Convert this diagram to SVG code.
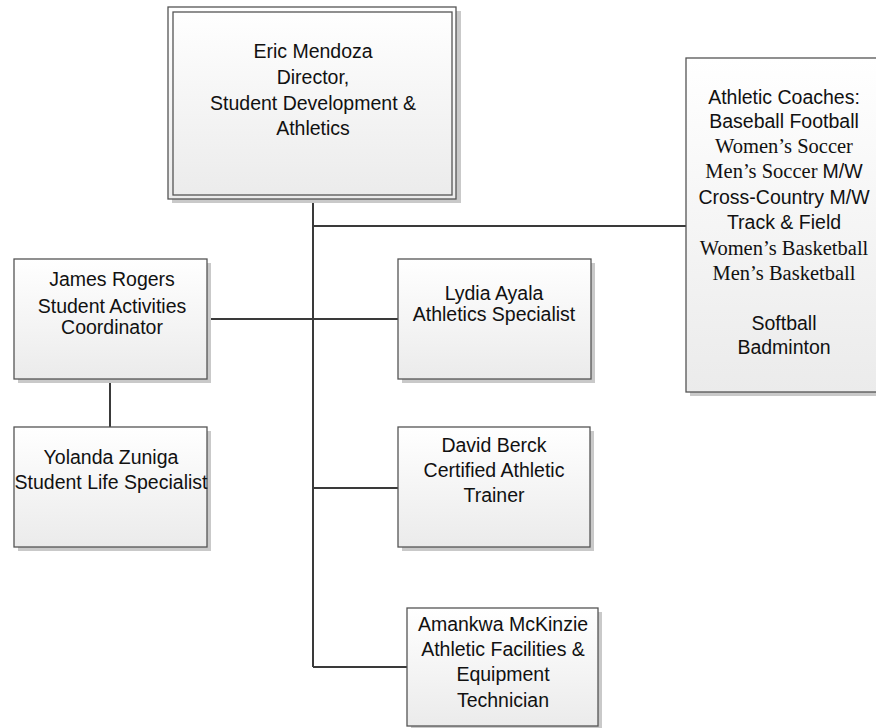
<svg xmlns="http://www.w3.org/2000/svg" width="876" height="728" viewBox="0 0 876 728">
<defs>
<linearGradient id="g" x1="0" y1="0" x2="0" y2="1">
<stop offset="0" stop-color="#ffffff"/>
<stop offset="1" stop-color="#ebebeb"/>
</linearGradient>
<style>
.box{fill:url(#g);stroke:#555555;stroke-width:1.3}
.sh{fill:#c9c9c9}
.t{font-family:"Liberation Sans",Arial,sans-serif;font-size:19.5px;fill:#111111;text-anchor:middle}
.s{font-family:"Liberation Serif","Times New Roman",serif;font-size:20.5px}
.c{fill:none;stroke:#3a3a3a;stroke-width:2}
</style>
</defs>
<rect width="876" height="728" fill="#ffffff"/>
<g id="connectors">
<path class="c" d="M313 199V667"/>
<path class="c" d="M313 226H686"/>
<path class="c" d="M207 319H398"/>
<path class="c" d="M313 488H398"/>
<path class="c" d="M313 667H407"/>
<path class="c" d="M110 379V427"/>
</g>
<g id="director">
<rect class="sh" x="172" y="11" width="289" height="192"/>
<rect class="box" x="168" y="7" width="288" height="192"/>
<rect fill="none" stroke="#555555" stroke-width="1.3" x="173" y="12" width="279" height="183"/>
<text class="t" x="313" y="58">Eric Mendoza</text>
<text class="t" x="313" y="84">Director,</text>
<text class="t" x="313" y="110">Student Development &amp;</text>
<text class="t" x="313" y="135">Athletics</text>
</g>
<g id="coaches">
<rect class="sh" x="690" y="62" width="196" height="334"/>
<rect class="box" x="686" y="58" width="196" height="334"/>
<text class="t" x="784" y="104">Athletic Coaches:</text>
<text class="t" x="784" y="128">Baseball Football</text>
<text class="t s" x="784" y="153">Women’s Soccer</text>
<text class="t" x="784" y="178"><tspan class="s">Men’s Soccer </tspan>M/W</text>
<text class="t" x="784" y="204">Cross-Country M/W</text>
<text class="t" x="784" y="229">Track &amp; Field</text>
<text class="t s" x="784" y="255">Women’s Basketball</text>
<text class="t s" x="784" y="280">Men’s Basketball</text>
<text class="t" x="784" y="330">Softball</text>
<text class="t" x="784" y="354">Badminton</text>
</g>
<g id="james">
<rect class="sh" x="18" y="263" width="193" height="120"/>
<rect class="box" x="14" y="259" width="193" height="120"/>
<text class="t" x="112" y="286">James Rogers</text>
<text class="t" x="112" y="313">Student Activities</text>
<text class="t" x="112" y="334">Coordinator</text>
</g>
<g id="yolanda">
<rect class="sh" x="18" y="431" width="193" height="120"/>
<rect class="box" x="14" y="427" width="193" height="120"/>
<text class="t" x="111" y="464">Yolanda Zuniga</text>
<text class="t" x="111" y="489">Student Life Specialist</text>
</g>
<g id="lydia">
<rect class="sh" x="402" y="263" width="193" height="120"/>
<rect class="box" x="398" y="259" width="193" height="120"/>
<text class="t" x="494" y="300">Lydia Ayala</text>
<text class="t" x="494" y="321">Athletics Specialist</text>
</g>
<g id="david">
<rect class="sh" x="402" y="431" width="192" height="120"/>
<rect class="box" x="398" y="427" width="192" height="120"/>
<text class="t" x="494" y="452">David Berck</text>
<text class="t" x="494" y="477">Certified Athletic</text>
<text class="t" x="494" y="502">Trainer</text>
</g>
<g id="amankwa">
<rect class="sh" x="411" y="612" width="191" height="118"/>
<rect class="box" x="407" y="608" width="191" height="118"/>
<text class="t" x="503" y="631">Amankwa McKinzie</text>
<text class="t" x="503" y="656">Athletic Facilities &amp;</text>
<text class="t" x="503" y="681">Equipment</text>
<text class="t" x="503" y="707">Technician</text>
</g>
</svg>
